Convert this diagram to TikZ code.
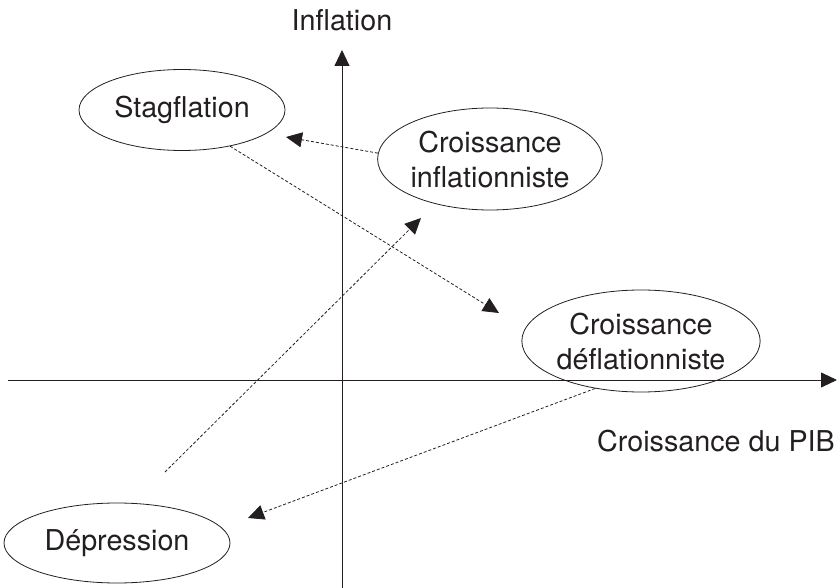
\documentclass[tikz,border=0pt]{standalone}
\usepackage{fontspec}
\setmainfont{TeX Gyre Heros}
\usetikzlibrary{arrows.meta,shapes.geometric}
\definecolor{ink}{HTML}{231F20}
\tikzset{
  state/.style={ellipse, draw=ink, line width=0.8pt, inner sep=0pt, align=center, text=ink,
    font=\fontsize{28.7}{35}\selectfont},
  lbl/.style={text=ink, inner sep=0pt, font=\fontsize{28.7}{35}\selectfont},
  axis/.style={draw=ink, line width=0.9pt, -{Triangle[length=16pt,width=15pt]}},
  move/.style={draw=ink, line width=0.8pt, dash pattern=on 3pt off 2pt, -{Triangle[length=16pt,width=15pt]}},
  trail/.style={draw=ink, line width=0.8pt, dash pattern=on 3pt off 2pt}
}
\begin{document}
\begin{tikzpicture}[x=1pt,y=-1pt]
\useasboundingbox (0,0) rectangle (839,588);
% axes
\coordinate (xl) at (8,380);
\coordinate (xr) at (837,380);
\coordinate (yb) at (342,588);
\coordinate (yt) at (342,50);
\draw[axis] (xl) -- (xr);
\draw[axis] (yb) -- (yt);
\node[lbl] (ylab) at (342,20) {Inflation};
\node[lbl] (xlab) at (716,441) {Croissance du PIB};
% states
\node[state, minimum width=206pt, minimum height=81pt] (stag) at (182,110) {Stagflation};
\node[state, minimum width=220pt, minimum height=102pt] (infl) at (490,159) {Croissance\\inflationniste};
\node[state, minimum width=238pt, minimum height=102pt] (defl) at (641,341) {Croissance\\déflationniste};
\node[state, minimum width=226pt, minimum height=80pt] (depr) at (117,543) {Dépression};
% free ends
\coordinate (t1) at (286,137);
\coordinate (t2) at (499,313);
\coordinate (s3) at (165,472);
\coordinate (t3) at (421,218);
\coordinate (t4) at (248,518);
% movements
\draw[move] (infl.177) -- (t1);
\draw[move] (stag.-37) -- (t2);
\draw[move] (s3) -- (t3);
\draw[move] (defl.-134) -- (t4);
\end{tikzpicture}
\end{document}
